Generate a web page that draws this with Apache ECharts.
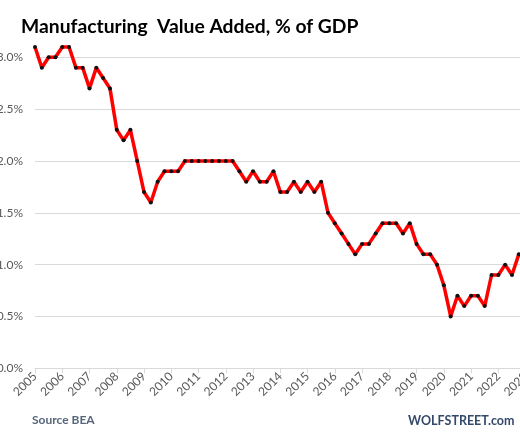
<!DOCTYPE html>
<html>
<head>
<meta charset="utf-8">
<script src="https://cdn.jsdelivr.net/npm/echarts@6/dist/echarts.min.js"></script>
<style>
html,body{margin:0;padding:0;background:#fff;}
#chart{width:520px;height:434px;}
</style>
</head>
<body>
<div id="chart"></div>
<script>
// Year tick labels (one per 4 quarters)
var yearLabels = ['2005','2006','2007','2008','2009','2010','2011','2012','2013','2014','2015','2016','2017','2018','2019','2020','2021','2022','2023'];
var quarterNames = ['Q1','Q2','Q3','Q4'];
// Manufacturing value added, % of GDP, quarterly from 2005 Q1
var valueAdded = [
  13.1, 12.9, 13.0, 13.0, 13.1, 13.1, 12.9, 12.9, 12.7, 12.9, 12.8, 12.7,
  12.3, 12.2, 12.3, 12.0, 11.7, 11.6, 11.8, 11.9, 11.9, 11.9, 12.0, 12.0,
  12.0, 12.0, 12.0, 12.0, 12.0, 12.0, 11.9, 11.8, 11.9, 11.8, 11.8, 11.9,
  11.7, 11.7, 11.8, 11.7, 11.8, 11.7, 11.8, 11.5, 11.4, 11.3, 11.2, 11.1,
  11.2, 11.2, 11.3, 11.4, 11.4, 11.4, 11.3, 11.4, 11.2, 11.1, 11.1, 11.0,
  10.8, 10.5, 10.7, 10.6, 10.7, 10.7, 10.6, 10.9, 10.9, 11.0, 10.9, 11.1
];
var yMin = 10, yMax = 13, yStep = 0.5;

var categories = [];
yearLabels.forEach(function (y) {
  quarterNames.forEach(function (q) { categories.push(y + ' ' + q); });
});
categories = categories.slice(0, valueAdded.length + 1);

var chart = echarts.init(document.getElementById('chart'), null, {renderer: 'canvas'});
chart.setOption({
  animation: false,
  backgroundColor: '#ffffff',
  title: [
    {
      text: 'Manufacturing  Value Added, % of GDP',
      left: 21, top: 17, padding: 0,
      textStyle: {fontFamily: 'Lato', fontWeight: 'bold', fontSize: 19.3, color: '#000000'}
    },
    {
      text: 'Source BEA',
      left: 32, top: 414, padding: 0,
      textStyle: {fontFamily: 'Lato', fontWeight: 'bold', fontSize: 12, color: '#56657a'}
    },
    {
      text: 'WOLFSTREET.com',
      left: 408, top: 414, padding: 0,
      textStyle: {fontFamily: 'Lato', fontWeight: 'bold', fontSize: 12.5, color: '#34496a'}
    }
  ],
  grid: {
    left: 35, right: -5.6, top: 57.3, bottom: 65.7,
    containLabel: false,
    outerBoundsMode: 'none'
  },
  xAxis: {
    type: 'category',
    data: categories,
    boundaryGap: false,
    axisLine: {lineStyle: {color: '#d9d9d9', width: 1}},
    axisTick: {show: true, interval: 3, length: 5, lineStyle: {color: '#d9d9d9'}},
    axisLabel: {
      interval: 3, rotate: 45, margin: 6,
      fontFamily: 'Lato', fontSize: 12, color: '#595959',
      formatter: function (v) { return v.split(' ')[0]; }
    },
    splitLine: {show: false}
  },
  yAxis: {
    type: 'value',
    min: yMin, max: yMax, interval: yStep,
    axisLine: {show: false},
    axisTick: {show: false},
    axisLabel: {
      margin: 12, fontFamily: 'Lato', fontSize: 12, color: '#595959',
      formatter: function (v) { return v.toFixed(1) + '%'; }
    },
    splitLine: {lineStyle: {color: '#d9d9d9', width: 1}}
  },
  series: [{
    type: 'line',
    data: valueAdded,
    clip: false,
    symbol: 'circle',
    symbolSize: 4,
    showSymbol: true,
    itemStyle: {color: '#111111', borderWidth: 0},
    lineStyle: {color: '#ff0000', width: 3.5},
    z: 3
  }]
});
</script>
</body>
</html>
